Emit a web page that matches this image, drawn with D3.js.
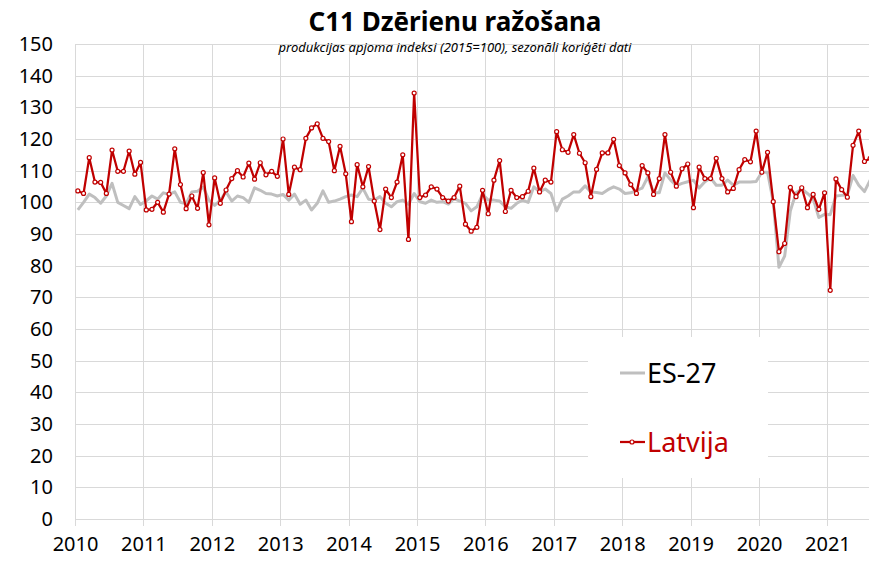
<!DOCTYPE html>
<html>
<head>
    <meta charset="utf-8">
    <title>C11 Dzērienu ražošana</title>
    <script src="https://cdn.jsdelivr.net/npm/d3@7"></script>
    <style>
        body { margin: 0; background: #fff; }
        text { font-family: 'Noto Sans', sans-serif; fill: #000; }
        .axis text { font-size: 20px; }
        .axis path, .axis line { display: none; }
    </style>
</head>
<body>
<script>
    // data: monthly index, Jan 2010 .. Aug 2021
    var startYear = 2010;
    var yearLabels = ['2010', '2011', '2012', '2013', '2014', '2015', '2016', '2017', '2018', '2019', '2020', '2021'];
    var yTicks = [0, 10, 20, 30, 40, 50, 60, 70, 80, 90, 100, 110, 120, 130, 140, 150];

    var es27 = [
        97.6, 100, 102.6, 101.5, 99.7, 102, 106, 100, 99, 98, 101.8, 99.3,
        100.5, 102, 101, 103, 102.5, 103.3, 100, 99.5, 103.3, 103.5, 104.8, 100.7,
        99, 100.7, 103.3, 100.4, 102, 101.5, 100, 104.6, 103.8, 102.8, 102.6, 102,
        102.5, 100.7, 102.6, 99.4, 100.7, 97.6, 99.7, 103.6, 100, 100.4, 101, 101.8,
        102.3, 101.8, 104.5, 101, 100.7, 101.8, 99.7, 98.6, 100.2, 100.7, 99.4, 102.8,
        100.2, 99.7, 100.7, 100, 100.2, 99.4, 101.2, 100.4, 99.7, 97.3, 98.6, 102.5,
        100.7, 100.7, 100.4, 98.6, 98.1, 99.7, 100.7, 100, 104.9, 103.3, 104.2, 102.8,
        97.3, 101, 102, 103.3, 103.3, 105.2, 103.3, 103.1, 102.8, 104, 104.9, 104.2,
        102.8, 103, 103.8, 104.5, 108, 103, 103, 109.3, 107, 105.3, 106, 106.5,
        107, 104.5, 106.5, 107.7, 105.4, 105.4, 107, 105.4, 106.4, 106.4, 106.4, 106.6,
        109.5, 109.5, 100.2, 79.5, 83, 97.3, 103, 104.2, 102.8, 101.2, 95.2, 96.2,
        96.1, 102, 102.2, 102.3, 108.5, 105.4, 103.4, 107
    ];

    var latvija = [
        103.6, 102.8, 114.1, 106.4, 106.3, 102.8, 116.5, 109.8, 109.8, 116.2, 108.9, 112.6,
        97.6, 97.8, 100, 96.9, 102.6, 116.9, 105.6, 98, 102, 98.1, 109.4, 92.9,
        107.7, 99.7, 103.9, 107.5, 110, 108, 112.4, 107.3, 112.5, 108.7, 109.8, 108.2,
        120, 102.5, 111.1, 110.3, 120.2, 123.5, 124.8, 120.2, 119.2, 110, 117.7, 109,
        93.9, 111.9, 104.9, 111.3, 100.4, 91.4, 104.2, 101.5, 106.4, 115, 88.3, 134.5,
        101.5, 102.3, 104.9, 104.2, 101.5, 100.4, 101.5, 105.1, 93.1, 90.9, 92.1, 103.8,
        96.4, 107, 113.2, 97.1, 103.8, 101.5, 101.8, 103.5, 110.8, 103.3, 107, 106.4,
        122.3, 116.6, 115.8, 121.4, 115.5, 112.5, 101.8, 110.4, 115.6, 115.6, 119.9, 111.6,
        109.3, 105.6, 102.8, 111.6, 109.3, 102.5, 107.5, 121.4, 109.5, 105.1, 110.6, 112.1,
        98.3, 111.1, 107.5, 107.5, 113.9, 107.5, 103.3, 104.4, 110.3, 113.5, 112.8, 122.5,
        109.5, 115.8, 100.2, 84.4, 87, 104.7, 101.8, 104.6, 98.3, 102.5, 97.8, 103,
        72.2, 107.4, 104, 101.6, 118, 122.5, 112.9, 113.9
    ];

    var width = 869, height = 563;
    var plotLeft = 75, monthW = 5.7;
    var plotTop = 44, plotBottom = 519;

    var svg = d3.select('body').append('svg')
        .attr('width', width)
        .attr('height', height);

    var x = d3.scaleLinear()
        .domain([0, yearLabels.length * 12])
        .range([plotLeft, plotLeft + yearLabels.length * 12 * monthW]);

    var y = d3.scaleLinear()
        .domain([0, 150])
        .range([plotBottom, plotTop]);

    // grid
    var grid = svg.append('g').attr('stroke', '#d9d9d9').attr('stroke-width', 1);
    grid.selectAll('line.h')
        .data(yTicks).enter()
        .append('line')
        .attr('x1', plotLeft).attr('x2', width)
        .attr('y1', function(d) { return Math.round(y(d)) + 0.5; })
        .attr('y2', function(d) { return Math.round(y(d)) + 0.5; });
    grid.selectAll('line.v')
        .data(yearLabels).enter()
        .append('line')
        .attr('x1', function(d, i) { return Math.round(x(i * 12)) + 0.5; })
        .attr('x2', function(d, i) { return Math.round(x(i * 12)) + 0.5; })
        .attr('y1', plotTop).attr('y2', plotBottom + 7);

    // axes
    var yax = d3.axisLeft(y).tickValues(yTicks).tickSize(0).tickPadding(0);
    svg.append('g')
        .classed('axis', true)
        .attr('transform', 'translate(53,0)')
        .call(yax);

    var xax = d3.axisBottom(x)
        .tickValues(d3.range(0, yearLabels.length * 12, 12))
        .tickFormat(function(d) { return yearLabels[d / 12]; })
        .tickSize(0).tickPadding(0);
    svg.append('g')
        .classed('axis', true)
        .attr('transform', 'translate(0,537)')
        .call(xax);

    var px = function(d, i) { return x(i + 0.5); };

    var line = d3.line().x(px).y(function(d) { return y(d); });

    svg.append('path')
        .datum(es27)
        .attr('fill', 'none')
        .attr('stroke', '#bfbfbf')
        .attr('stroke-width', 3)
        .attr('stroke-linejoin', 'round')
        .attr('d', line);

    svg.append('path')
        .datum(latvija)
        .attr('fill', 'none')
        .attr('stroke', '#c00000')
        .attr('stroke-width', 2.25)
        .attr('stroke-linejoin', 'round')
        .attr('d', line);

    svg.append('g')
        .selectAll('circle')
        .data(latvija).enter()
        .append('circle')
        .attr('cx', px)
        .attr('cy', function(d) { return y(d); })
        .attr('r', 2)
        .attr('fill', '#fff')
        .attr('stroke', '#c00000')
        .attr('stroke-width', 1.2);

    // titles
    svg.append('text')
        .attr('x', 455).attr('y', 31)
        .attr('text-anchor', 'middle')
        .style('font-size', '26px')
        .style('font-weight', 'bold')
        .text('C11 Dzērienu ražošana');

    svg.append('text')
        .attr('x', 455).attr('y', 52)
        .attr('text-anchor', 'middle')
        .style('font-size', '13px')
        .style('font-style', 'italic')
        .text('produkcijas apjoma indeksi (2015=100), sezonāli koriģēti dati');

    // legend
    var legend = svg.append('g');
    legend.append('rect')
        .attr('x', 588).attr('y', 337)
        .attr('width', 180).attr('height', 141)
        .attr('fill', '#fff');

    legend.append('line')
        .attr('x1', 620).attr('x2', 645)
        .attr('y1', 373).attr('y2', 373)
        .attr('stroke', '#bfbfbf').attr('stroke-width', 3);
    legend.append('text')
        .attr('x', 647).attr('y', 383)
        .style('font-size', '27px')
        .text('ES-27');

    legend.append('line')
        .attr('x1', 620).attr('x2', 645)
        .attr('y1', 442).attr('y2', 442)
        .attr('stroke', '#c00000').attr('stroke-width', 2.25);
    legend.append('circle')
        .attr('cx', 632).attr('cy', 442).attr('r', 2)
        .attr('fill', '#fff').attr('stroke', '#c00000').attr('stroke-width', 1.2);
    legend.append('text')
        .attr('x', 647).attr('y', 452)
        .style('font-size', '27px')
        .style('fill', '#c00000')
        .text('Latvija');
</script>
</body>
</html>
